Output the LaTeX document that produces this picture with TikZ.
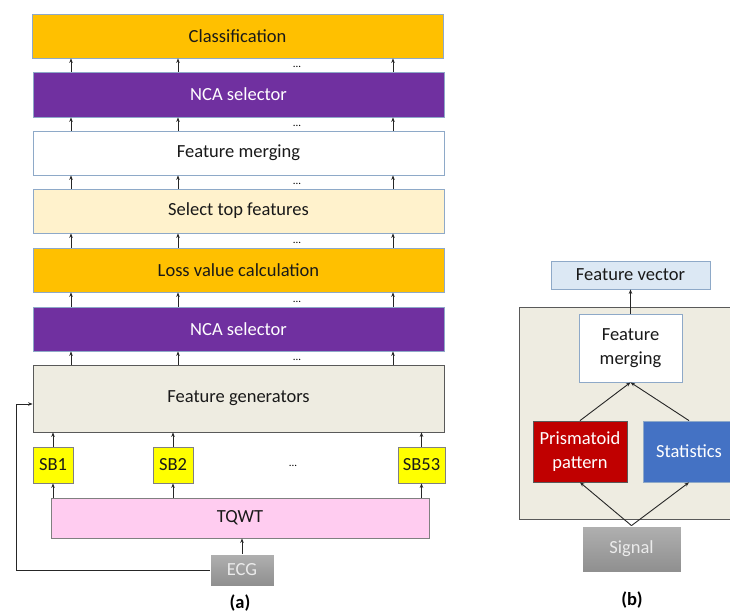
\documentclass[tikz,border=0pt]{standalone}
\usepackage{fontspec}
\setmainfont{Carlito}
\usetikzlibrary{arrows.meta}
\definecolor{cgold}{HTML}{FFC000}
\definecolor{cpurple}{HTML}{7030A0}
\definecolor{ccream}{HTML}{FFF2CC}
\definecolor{cbeige}{HTML}{EEECE1}
\definecolor{cpink}{HTML}{FFCCF0}
\definecolor{cyel}{HTML}{FFFF00}
\definecolor{cblueb}{HTML}{8EA9C8}
\definecolor{cdark}{HTML}{595959}
\definecolor{cred}{HTML}{C00000}
\definecolor{cblue}{HTML}{4472C4}
\definecolor{clblue}{HTML}{DCE8F4}
\begin{document}
\begin{tikzpicture}[x=1pt,y=-1pt,
  box/.style={draw=cblueb,line width=0.8pt,inner sep=0pt,font=\fontsize{18.5}{22}\selectfont,text=black!90,align=center},
  gbox/.style={box,draw=cdark},
  graybox/.style={box,draw=white,top color=gray!62,bottom color=gray!88,text=white!92!black},
  arr/.style={-{Stealth[length=4.5pt,width=3.5pt]},line width=0.9pt,draw=black!85},
  dots/.style={font=\fontsize{11}{12}\selectfont,inner sep=0pt},
  lab/.style={font=\bfseries\fontsize{18.5}{22}\selectfont,inner sep=0pt}]
\useasboundingbox (0,0) rectangle (730,615);
\clip (0,0) rectangle (730,615);
% ---------- panel (a) ----------
\node[box,fill=cgold,minimum width=411pt,minimum height=44pt] (cls) at (237.5,36) {Classification};
\node[box,fill=cpurple,text=white,minimum width=411pt,minimum height=45pt] (nca1) at (238.5,94.5) {NCA selector};
\node[box,fill=white,minimum width=411pt,minimum height=44pt] (fm) at (238.5,153) {Feature merging};
\node[box,fill=ccream,minimum width=411pt,minimum height=44pt] (stf) at (238.5,211) {Select top features};
\node[box,fill=cgold,minimum width=411pt,minimum height=44pt] (loss) at (238.5,270) {Loss value calculation};
\node[box,fill=cpurple,text=white,minimum width=411pt,minimum height=44pt] (nca2) at (238.5,329) {NCA selector};
\node[gbox,fill=cbeige,minimum width=411pt,minimum height=67pt] (fg) at (238.5,398.5) {Feature generators};
\node[gbox,draw=gray,fill=cyel,minimum width=40pt,minimum height=36pt] (sb1) at (53,465) {SB1};
\node[gbox,draw=gray,fill=cyel,minimum width=40pt,minimum height=36pt] (sb2) at (173,465) {SB2};
\node[gbox,draw=gray,fill=cyel,minimum width=47pt,minimum height=36pt] (sb53) at (421.5,465) {SB53};
\node[dots] (sbdots) at (293,466) {...};
\node[gbox,draw=gray,fill=cpink,minimum width=378pt,minimum height=40pt] (tq) at (240,518) {TQWT};
\node[graybox,minimum width=64pt,minimum height=32pt] (ecg) at (242,570) {ECG};
\node[lab] (la) at (240,603) {(a)};
% column positions
\coordinate (c1) at (71,0);
\coordinate (c2) at (178,0);
\coordinate (c3) at (393,0);
\foreach \lo/\hi in {nca1/cls,fm/nca1,stf/fm,loss/stf,nca2/loss,fg/nca2}{
  \foreach \c in {c1,c2,c3}{
    \draw[arr] (\lo.north -| \c) -- (\hi.south -| \c);
  }
  \node[dots,above=3.5pt] at (\lo.north -| 297,0) {...};
}
\foreach \s in {sb1,sb2,sb53}{
  \draw[arr] (\s.north) -- (\s.north |- fg.south);
  \draw[arr] (tq.north -| \s) -- (\s.south);
}
\draw[arr] (ecg.north) -- (ecg.north |- tq.south);
\coordinate (fb) at (16,404);
\draw[arr] (ecg.west) -| (fb) -- (fb -| fg.west);
% ---------- panel (b) ----------
\node[gbox,fill=cbeige,minimum width=216pt,minimum height=212pt] (big) at (627,413) {};
\node[box,draw=cblueb,fill=clblue,minimum width=159pt,minimum height=28pt] (fv) at (630.5,275) {Feature vector};
\node[box,fill=white,minimum width=103pt,minimum height=68pt,font=\fontsize{18.5}{24}\selectfont] (fmb) at (630.5,348) {Feature\\merging};
\node[gbox,draw=cdark,fill=cred,text=white,minimum width=94pt,minimum height=61pt,font=\fontsize{18.5}{24}\selectfont] (pp) at (580,451.5) {Prismatoid\\pattern};
\node[box,draw=cblueb,fill=cblue,text=white,minimum width=92pt,minimum height=61pt] (st) at (689,451.5) {Statistics};
\node[graybox,minimum width=99pt,minimum height=46pt] (sig) at (631.5,549) {Signal};
\node[lab] (lb) at (632,600) {(b)};
\draw[arr] (sig.north) -- (pp.south);
\draw[arr] (sig.north) -- (st.south);
\draw[arr] (pp.north) -- (fmb.south);
\draw[arr] (st.north) -- (fmb.south);
\draw[arr] (fmb.north) -- (fv.south);
\end{tikzpicture}
\end{document}
